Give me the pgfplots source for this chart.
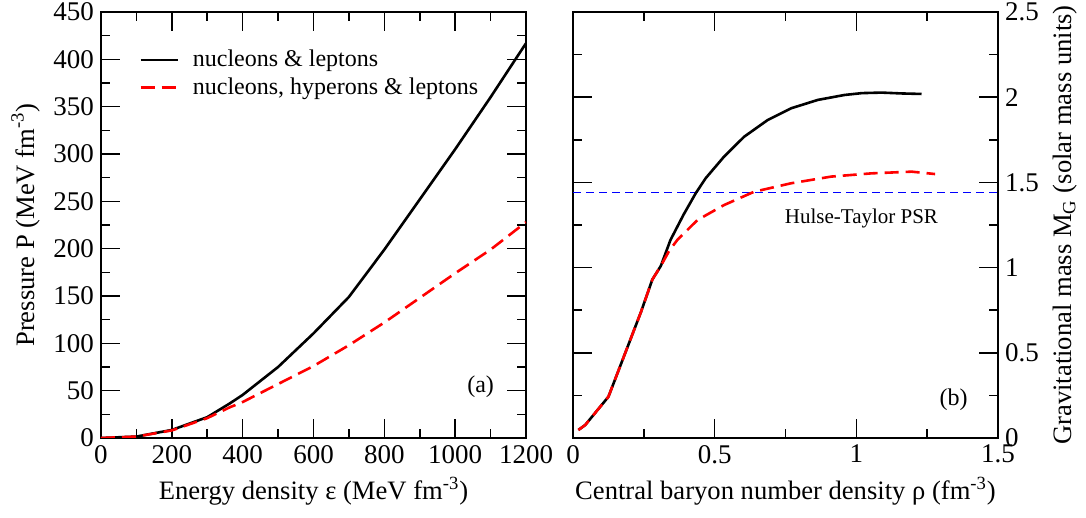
\documentclass[border=0pt]{standalone}
\usepackage{fontspec}
\setmainfont{Liberation Serif}
\usepackage{pgfplots}
\pgfplotsset{compat=1.18}

\pgfplotsset{
  panel/.style={
    scale only axis,
    width=212.5pt, height=213pt,
    axis line style={line width=0.8pt},
    major tick length=9.5pt, minor tick length=4.5pt,
    every tick/.style={black, line width=0.8pt},
    minor x tick num=1, minor y tick num=1,
    tick align=inside,
    /pgf/number format/assume math mode=true,
    /pgf/number format/1000 sep={},
    ticklabel style={font=\fontsize{13.5}{15}\selectfont},
    label style={font=\fontsize{13.3}{15}\selectfont},
  },
  redd/.style={red, line width=1.3pt, dash pattern=on 7pt off 3.5pt},
  blk/.style={black, line width=1.3pt},
}

\begin{document}
\begin{tikzpicture}
\useasboundingbox (-50.5pt,-40pt) rectangle (492.5pt,219pt);
% (a) equation of state
\begin{axis}[panel, at={(0,0)}, anchor=south west,
  xmin=0, xmax=1200, ymin=0, ymax=450,
  xtick={0,200,...,1200}, ytick={0,50,...,450},
  xlabel={Energy density ε (MeV fm\textsuperscript{-3})},
  ylabel={Pressure P (MeV fm\textsuperscript{-3})},
  legend style={draw=none, fill=none, at={(axis description cs:0.075,0.93)}, anchor=north west,
    font=\fontsize{12}{13}\selectfont, row sep=0pt,
    /tikz/every odd column/.append style={column sep=5pt}},
  legend cell align=left,
  legend image code/.code={\draw[#1] (0pt,0pt) -- (18.5pt,0pt);},
]
\addplot[blk] coordinates {
(0,0) (100,1.5) (200,8.5) (300,22) (364,36.6) (400,45.5) (500,75) (600,110.5)
(700,149) (800,199) (900,252) (1000,305) (1100,360) (1200,417)
};
\addlegendentry{nucleons \& leptons}
\addplot[redd] coordinates {
(0,0) (100,1.5) (200,8) (300,21) (364,32.5) (400,38) (500,57) (600,76)
(700,98) (800,122) (900,148) (1000,174) (1100,199) (1200,228)
};
\addlegendentry{nucleons, hyperons \& leptons}
\node[font=\fontsize{12}{13}\selectfont] at (axis cs:1072,54) {(a)};
\end{axis}

% (b) mass vs central density
\begin{axis}[panel, at={(236pt,0)}, anchor=south west,
  xmin=0, xmax=1.5, ymin=0, ymax=2.5,
  xtick={0,0.5,1,1.5}, ytick={0,0.5,...,2.5},
  yticklabel pos=right,
  xlabel={Central baryon number density ρ (fm\textsuperscript{-3})},
  ylabel={Gravitational mass M\textsubscript{G} (solar mass units)},
]
\addplot[blue, line width=0.6pt, dash pattern=on 4pt off 2.5pt] coordinates {(0,1.44) (1.5,1.44)};
\addplot[blk] coordinates {
(0.019,0.047) (0.043,0.076) (0.125,0.242) (0.18,0.48) (0.21,0.61) (0.24,0.74)
(0.28,0.93) (0.31,1.01) (0.344,1.162) (0.39,1.31) (0.433,1.436) (0.468,1.524)
(0.533,1.651) (0.604,1.768) (0.687,1.866) (0.770,1.935) (0.864,1.984)
(0.958,2.013) (1.02,2.024) (1.089,2.027) (1.16,2.022) (1.23,2.019)
};
\addplot[redd] coordinates {
(0.019,0.047) (0.043,0.076) (0.125,0.242) (0.18,0.48) (0.21,0.61) (0.24,0.74)
(0.28,0.93) (0.31,1.01) (0.34,1.10) (0.368,1.162) (0.439,1.279) (0.533,1.367)
(0.639,1.445) (0.77,1.495) (0.911,1.534) (1.053,1.553) (1.195,1.563) (1.278,1.549)
};
\node[font=\fontsize{10.5}{12}\selectfont] at (axis cs:1.018,1.29) {Hulse-Taylor PSR};
\node[font=\fontsize{12}{13}\selectfont] at (axis cs:1.343,0.223) {(b)};
\end{axis}
\end{tikzpicture}
\end{document}
